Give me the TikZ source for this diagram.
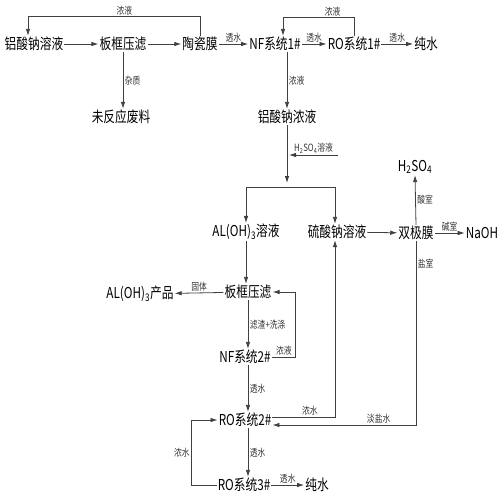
\documentclass[tikz,border=0pt]{standalone}
\usepackage{fontspec}
\setmainfont{Noto Sans CJK SC}[FakeStretch=0.78]
\usetikzlibrary{arrows.meta}

\tikzset{
  box/.style={inner sep=1pt, font=\fontsize{15}{15}\selectfont},
  lbl/.style={inner sep=1.5pt, font=\fontsize{10}{10}\selectfont, text=black!80},
  flow/.style={draw=black!75, line width=0.8pt, -{Latex[length=7pt,width=4.5pt]}},
  pipe/.style={draw=black!75, line width=0.8pt}
}

\begin{document}
\begin{tikzpicture}[x=1pt,y=-1pt]
  \useasboundingbox (0,0) rectangle (500,499);
  % first line
  \node[box] (sal) at (34,44) {铝酸钠溶液};
  \node[box] (bk1) at (123,44) {板框压滤};
  \node[box] (tcm) at (200,44) {陶瓷膜};
  \node[box] (nf1) at (275,44) {NF系统1\#};
  \node[box] (ro1) at (354,44) {RO系统1\#};
  \node[box] (pw1) at (426,44) {纯水};
  \node[box] (waste) at (121,117) {未反应废料};
  \node[box] (conc) at (287,117) {铝酸钠浓液};
  \coordinate (hin) at (338,155);
  \coordinate (split) at (287,187);
  % middle
  \node[box] (aloh) at (246,232) {AL(OH)\textsubscript{3}溶液};
  \node[box] (nas) at (337,232) {硫酸钠溶液};
  \node[box] (bpm) at (416,233) {双极膜};
  \node[box] (hso) at (415,167) {H\textsubscript{2}SO\textsubscript{4}};
  \node[box] (naoh) at (482,233) {NaOH};
  \node[box] (bk2) at (248,292) {板框压滤};
  \node[box] (prod) at (140,294) {AL(OH)\textsubscript{3}产品};
  \node[box] (nf2) at (245,357) {NF系统2\#};
  \node[box] (ro2) at (245,420) {RO系统2\#};
  \node[box] (ro3) at (244,485) {RO系统3\#};
  \node[box] (pw2) at (317,485) {纯水};

  \draw[flow] (sal) -- (bk1);
  \draw[flow] (bk1) -- (tcm);
  \draw[flow] (tcm) -- node[lbl, above] {透水} (nf1);
  \draw[flow] (nf1) -- node[lbl, above] {透水} (ro1);
  \draw[flow] (ro1) -- node[lbl, above] {透水} (pw1);
  \draw[flow] (tcm.north) -- ++(0,-19) -| node[lbl, pos=0.22, above] {浓液} ([xshift=-6pt]sal.north);
  \draw[flow] (ro1.north) -- ++(0,-18) -| node[lbl, pos=0.15, above] {浓液} ([xshift=8pt]nf1.north);
  \draw[flow] (bk1.south) -- node[lbl, right] {杂质} (bk1.south |- waste.north);
  \draw[flow] (nf1.south -| conc) -- node[lbl, right] {浓液} (conc.north);
  \draw[flow] (conc.south) -- ([yshift=4pt]split);
  \draw[flow] (hin) -- node[lbl, above] {H\textsubscript{2}SO\textsubscript{4}溶液} ([xshift=2pt]hin -| conc);
  \draw[flow] (split) -| (aloh.north);
  \draw[flow] (split) -| ([xshift=-2pt]nas.north);
  \draw[flow] (nas) -- (bpm);
  \draw[flow] (bpm.north) -- node[lbl, right] {酸室} (hso.south);
  \draw[flow] (bpm) -- node[lbl, above] {碱室} (naoh);
  \draw[flow] (bpm.south) |- node[lbl, pos=0.06, right] {盐室} node[lbl, pos=0.63, above] {淡盐水} ([yshift=-5pt]ro2.east);
  \draw[flow] (aloh.south) -- (bk2.north -| aloh);
  \draw[flow] (bk2) -- node[lbl, above] {固体} (prod);
  \draw[flow] (bk2.south) -- node[lbl, right] {滤渣+洗涤} (bk2.south |- nf2.north);
  \draw[flow] (nf2.east) -- ++(24,0) node[lbl, midway, above] {浓液} |- (bk2.east);
  \draw[flow] (nf2.south -| bk2) -- node[lbl, right] {透水} (ro2.north -| bk2);
  \draw[flow] ([yshift=3pt]ro2.east) -| node[lbl, pos=0.3, above] {浓水} ([xshift=-2pt]nas.south);
  \draw[flow] (ro2.south -| bk2) -- node[lbl, right] {透水} (ro3.north -| bk2);
  \draw[flow] (ro3) -- node[lbl, above] {透水} (pw2);
  \draw[flow] (ro3.west) -- ++(-25,0) |- node[lbl, pos=0.25, left] {浓水} (ro2.west);
\end{tikzpicture}
\end{document}
